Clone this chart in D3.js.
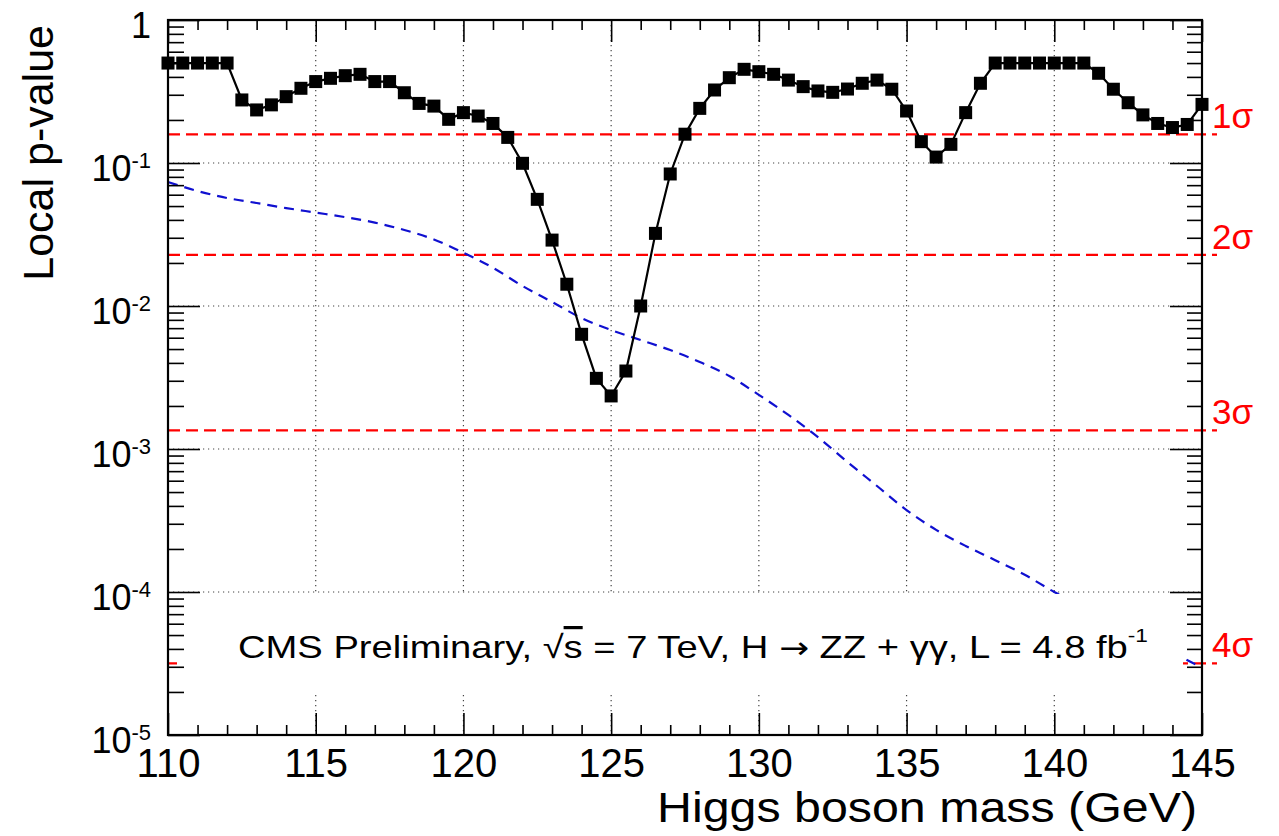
<!DOCTYPE html>
<html>
<head>
<meta charset="utf-8">
<script src="https://cdnjs.cloudflare.com/ajax/libs/d3/7.8.5/d3.min.js"></script>
<style>
  body { margin: 0; background: #fff; }
  text { font-family: "Liberation Sans", Arial, Helvetica, sans-serif; }
</style>
</head>
<body>
<div id="chart"></div>
<script>
// Canvas size
var width = 1279;
var height = 836;

// Higgs mass points of the observed scan (GeV)
var massPoints = [110, 110.5, 111, 111.5, 112, 112.5, 113, 113.5, 114, 114.5,
  115, 115.5, 116, 116.5, 117, 117.5, 118, 118.5, 119, 119.5,
  120, 120.5, 121, 121.5, 122, 122.5, 123, 123.5, 124, 124.5,
  125, 125.5, 126, 126.5, 127, 127.5, 128, 128.5, 129, 129.5,
  130, 130.5, 131, 131.5, 132, 132.5, 133, 133.5, 134, 134.5,
  135, 135.5, 136, 136.5, 137, 137.5, 138, 138.5, 139, 139.5,
  140, 140.5, 141, 141.5, 142, 142.5, 143, 143.5, 144, 144.5, 145];

// Observed local p-value
var observedP = [0.5, 0.5, 0.5, 0.5, 0.5, 0.276, 0.235, 0.255, 0.291, 0.333,
  0.371, 0.391, 0.408, 0.417, 0.371, 0.371, 0.310, 0.261, 0.250, 0.202,
  0.225, 0.213, 0.189, 0.151, 0.0995, 0.0557, 0.0289, 0.0142, 0.00634, 0.00312,
  0.00235, 0.00351, 0.0100, 0.0322, 0.0838, 0.159, 0.241, 0.324, 0.395, 0.452,
  0.435, 0.417, 0.380, 0.342, 0.319, 0.312, 0.329, 0.361, 0.380, 0.328,
  0.231, 0.141, 0.110, 0.135, 0.225, 0.361, 0.5, 0.5, 0.5, 0.5,
  0.5, 0.5, 0.5, 0.424, 0.328, 0.264, 0.217, 0.189, 0.177, 0.186, 0.257];

// Expected local p-value (blue dashed)
var expectedMass = [110, 111, 112, 113, 114, 115, 116, 117, 118, 119,
  120, 121, 122, 123, 124, 125, 126, 127, 128, 129,
  130, 131, 132, 133, 134, 135, 136, 137, 138, 139,
  140, 141, 142, 143, 144, 145];
var expectedP = [0.0736, 0.0637, 0.0569, 0.0525, 0.0484, 0.0450, 0.0418, 0.0383, 0.0340, 0.0292,
  0.0236, 0.0185, 0.0138, 0.01067, 0.00824, 0.00679, 0.00578, 0.00492, 0.00406, 0.00324,
  0.00239, 0.00173, 0.00121, 0.000811, 0.000551, 0.000374, 0.000272, 0.00021, 0.000167, 0.000132,
  0.0001, 0.000079, 0.000063, 0.00005, 0.000038, 0.0000295];

// Significance reference lines
var sigmaLabels = ["1σ", "2σ", "3σ", "4σ"];
var sigmaP = [0.1587, 0.02275, 0.00135, 0.0000317];

// Axis ticks
var xMajorTicks = [110, 115, 120, 125, 130, 135, 140, 145];
var xMinorTicks = [111, 112, 113, 114, 116, 117, 118, 119, 121, 122, 123, 124,
  126, 127, 128, 129, 131, 132, 133, 134, 136, 137, 138, 139, 141, 142, 143, 144];
var yExponents = [0, -1, -2, -3, -4, -5];
var yMinorMult = [2, 3, 4, 5, 6, 7, 8, 9];

var xTitle = "Higgs boson mass (GeV)";
var yTitle = "Local p-value";

// Frame of the plot area ("top" is taken by window.top, so prefix them)
var plotLeft = 168, plotRight = 1202, plotTop = 20, plotBottom = 735;

var svg = d3.select("#chart").append("svg")
    .attr("width", width)
    .attr("height", height);

var x = d3.scaleLinear().domain([110, 145]).range([plotLeft, plotRight]);
var y = d3.scaleLog().domain([1e-5, 1]).range([plotBottom, plotTop]);

var yMinorTicks = [];
yExponents.slice(1).forEach(function(e) {
  yMinorMult.forEach(function(m) { yMinorTicks.push(m * Math.pow(10, e)); });
});
var yMajorTicks = yExponents.map(function(e) { return Math.pow(10, e); });

// Dotted grid
var grid = svg.append("g").attr("class", "grid");
grid.selectAll(".gx").data(xMajorTicks.slice(1, -1)).enter().append("line")
    .attr("x1", x).attr("x2", x)
    .attr("y1", plotTop).attr("y2", plotBottom);
grid.selectAll(".gy").data(yMajorTicks.slice(1, -1)).enter().append("line")
    .attr("x1", plotLeft).attr("x2", plotRight)
    .attr("y1", y).attr("y2", y);
grid.selectAll("line")
    .attr("stroke", "#444")
    .attr("stroke-width", 1.2)
    .attr("stroke-dasharray", "1.2,3.8");

// Sigma lines
svg.append("g").selectAll("line").data(sigmaP).enter().append("line")
    .attr("x1", plotLeft).attr("x2", 1217)
    .attr("y1", y).attr("y2", y)
    .attr("stroke", "#ff0000")
    .attr("stroke-width", 2.2)
    .attr("stroke-dasharray", "12,6");

// Expected curve
var expLine = d3.line()
    .x(function(d, i) { return x(expectedMass[i]); })
    .y(function(d) { return y(d); })
    .curve(d3.curveMonotoneX);
svg.append("path")
    .datum(expectedP)
    .attr("d", expLine)
    .attr("fill", "none")
    .attr("stroke", "#1010d0")
    .attr("stroke-width", 2.2)
    .attr("stroke-dasharray", "10,7");

// Observed curve with square markers
var obsLine = d3.line()
    .x(function(d, i) { return x(massPoints[i]); })
    .y(function(d) { return y(d); });
svg.append("path")
    .datum(observedP)
    .attr("d", obsLine)
    .attr("fill", "none")
    .attr("stroke", "#000")
    .attr("stroke-width", 2.2);

var markerSize = 13;
svg.append("g").selectAll("rect").data(observedP).enter().append("rect")
    .attr("x", function(d, i) { return x(massPoints[i]) - markerSize / 2; })
    .attr("y", function(d) { return y(d) - markerSize / 2; })
    .attr("width", markerSize)
    .attr("height", markerSize)
    .attr("fill", "#000");

// White label box
svg.append("rect")
    .attr("x", 177).attr("y", 594)
    .attr("width", 1006).attr("height", 99)
    .attr("fill", "#fff");

var label = svg.append("text")
    .attr("x", 238).attr("y", 658)
    .attr("font-size", 32)
    .attr("fill", "#000")
    .attr("textLength", 910)
    .attr("lengthAdjust", "spacingAndGlyphs");
label.append("tspan").text("CMS Preliminary, √");
label.append("tspan").text("s").style("text-decoration", "overline");
label.append("tspan").text(" = 7 TeV, H ");
label.append("tspan").style("font-family", "DejaVu Sans").attr("font-size", 30).text("→");
label.append("tspan").text(" ZZ + γγ, L = 4.8 fb");
label.append("tspan").attr("dy", -16).attr("font-size", 19).text("-1");

// Sigma labels
svg.append("g").selectAll("text").data(sigmaP).enter().append("text")
    .attr("x", 1212)
    .attr("y", function(d) { return y(d) - 6; })
    .attr("font-size", 35)
    .attr("fill", "#ff0000")
    .text(function(d, i) { return sigmaLabels[i]; });

// Axes (ticks pointing inwards)
function noDomain(g) { g.select(".domain").remove(); }

svg.append("g").attr("transform", "translate(0," + plotBottom + ")")
    .call(d3.axisBottom(x).tickValues(xMajorTicks).tickSize(-22).tickPadding(14)
      .tickFormat(d3.format("d")))
    .call(noDomain)
    .call(function(g) {
      g.selectAll("text").attr("font-size", 40).attr("fill", "#000")
        .style("font-family", "Liberation Sans, Arial, sans-serif");
    });
svg.append("g").attr("transform", "translate(0," + plotBottom + ")")
    .call(d3.axisBottom(x).tickValues(xMinorTicks).tickSize(-10).tickFormat(""))
    .call(noDomain);
svg.append("g").attr("transform", "translate(0," + plotTop + ")")
    .call(d3.axisTop(x).tickValues(xMajorTicks).tickSize(-22).tickFormat(""))
    .call(noDomain);
svg.append("g").attr("transform", "translate(0," + plotTop + ")")
    .call(d3.axisTop(x).tickValues(xMinorTicks).tickSize(-10).tickFormat(""))
    .call(noDomain);

svg.append("g").attr("transform", "translate(" + plotLeft + ",0)")
    .call(d3.axisLeft(y).tickValues(yMajorTicks).tickSize(-32).tickFormat(""))
    .call(noDomain);
svg.append("g").attr("transform", "translate(" + plotLeft + ",0)")
    .call(d3.axisLeft(y).tickValues(yMinorTicks).tickSize(-16).tickFormat(""))
    .call(noDomain);
svg.append("g").attr("transform", "translate(" + plotRight + ",0)")
    .call(d3.axisRight(y).tickValues(yMajorTicks).tickSize(-32).tickFormat(""))
    .call(noDomain);
svg.append("g").attr("transform", "translate(" + plotRight + ",0)")
    .call(d3.axisRight(y).tickValues(yMinorTicks).tickSize(-15).tickFormat(""))
    .call(noDomain);

svg.selectAll(".tick line").attr("stroke", "#000").attr("stroke-width", 1.6);

// Frame
svg.append("rect")
    .attr("x", plotLeft).attr("y", plotTop)
    .attr("width", plotRight - plotLeft).attr("height", plotBottom - plotTop)
    .attr("fill", "none")
    .attr("stroke", "#000")
    .attr("stroke-width", 2.2);

// Y tick labels with superscript exponents
var yLabels = svg.append("g").selectAll("text").data(yExponents).enter().append("text")
    .attr("x", 151)
    .attr("y", function(e) { return y(Math.pow(10, e)) + 18; })
    .attr("text-anchor", "end")
    .attr("font-size", 36)
    .attr("fill", "#000");
yLabels.each(function(e) {
  var t = d3.select(this);
  if (e === 0) { t.text("1"); return; }
  t.append("tspan").text("10");
  t.append("tspan").attr("dy", -13).attr("font-size", 22).text(String(e));
});

// Axis titles
svg.append("text")
    .attr("x", 1197).attr("y", 822)
    .attr("text-anchor", "end")
    .attr("font-size", 43)
    .attr("fill", "#000")
    .attr("textLength", 540)
    .attr("lengthAdjust", "spacingAndGlyphs")
    .text(xTitle);

svg.append("text")
    .attr("transform", "translate(53,25) rotate(-90)")
    .attr("text-anchor", "end")
    .attr("font-size", 43)
    .attr("fill", "#000")
    .text(yTitle);
</script>
</body>
</html>
